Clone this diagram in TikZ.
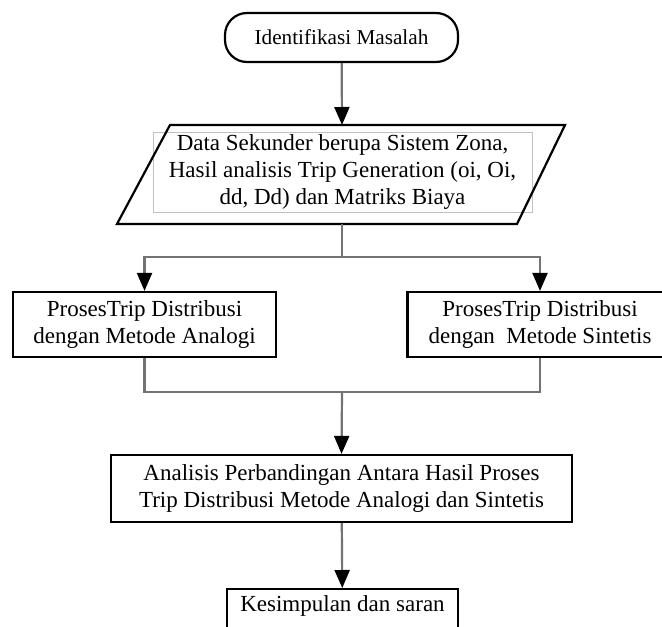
\documentclass[tikz,border=0pt]{standalone}
\usepackage{fontspec}
\setmainfont{Liberation Serif}
\usetikzlibrary{positioning, arrows.meta, calc}

\begin{document}
\begin{tikzpicture}[x=0.5pt, y=-0.5pt,
        every node/.style={font=\fontsize{11.5}{13.5}\selectfont, align=center, inner sep=0pt},
        box/.style={draw, line width=1.1pt},
        line/.style={draw=black!55, line width=1.1pt},
        arr/.style={line, -{Triangle[length=9pt, width=7.5pt, fill=black, color=black]}}]
        \clip (0,0) rectangle (662,626);
        \useasboundingbox (0,0) rectangle (662,626);

        \node[box, rounded corners=11pt, minimum width=116.5pt, minimum height=24.5pt,
          font=\fontsize{10.6}{13}\selectfont] (start) at (341.5,37.5) {Identifikasi Masalah};
        \node[draw=black!25, line width=0.4pt, minimum width=189.5pt, minimum height=40pt] (data) at (342.5,172)
          {Data Sekunder berupa Sistem Zona,\\ Hasil analisis Trip Generation (oi, Oi,\\ dd, Dd) dan Matriks Biaya};
        \draw[box] (170,125) -- (565,125) -- (517,224) -- (117,224) -- cycle;
        \coordinate (dtop) at (342,125);
        \coordinate (dbot) at (342,224);

        \node[box, minimum width=131.5pt, minimum height=32.5pt] (analogi) at (144.5,324.5) {ProsesTrip Distribusi\\ dengan Metode Analogi};
        \node[box, minimum width=132.5pt, minimum height=32.5pt] (sintetis) at (540,324.5) {ProsesTrip Distribusi\\ dengan~ Metode Sintetis};
        \node[box, minimum width=230.5pt, minimum height=33.5pt] (banding) at (341.5,488.5)
          {Analisis Perbandingan Antara Hasil Proses\\ Trip Distribusi Metode Analogi dan Sintetis};
        \node[box, minimum width=115.5pt, text height=11pt, text depth=15pt, anchor=north] (simpul) at (342.5,588) {Kesimpulan dan saran};

        \coordinate (split) at (342,257);
        \coordinate (join) at (342,392);

        \draw[arr] (start) -- (dtop);
        \draw[line] (dbot) -- (split);
        \draw[arr] (split) -| (analogi.north);
        \draw[arr] (split) -| (sintetis.north);
        \draw[line] (analogi.south) |- (join);
        \draw[line] (sintetis.south) |- (join);
        \draw[arr] (join) -- (banding.north);
        \draw[arr] (banding) -- (simpul);
     \end{tikzpicture}
\end{document}
